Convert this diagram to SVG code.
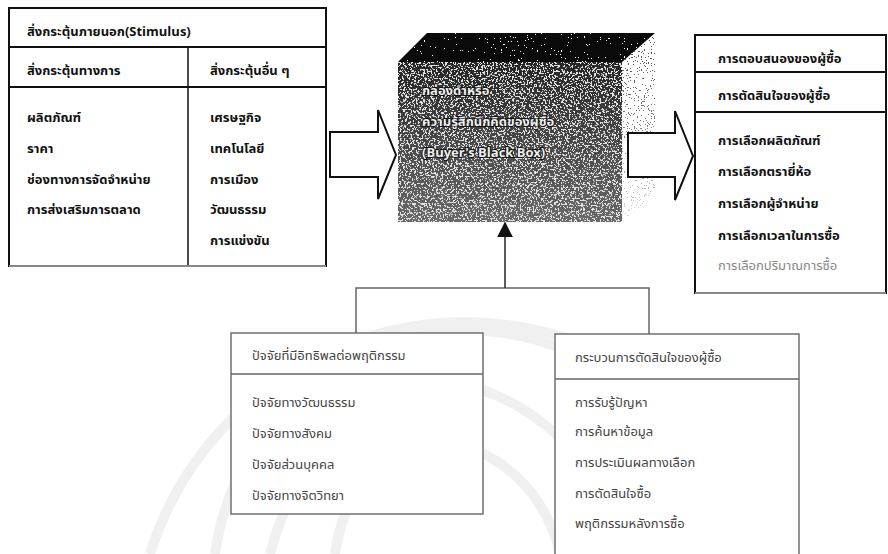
<svg xmlns="http://www.w3.org/2000/svg" width="888" height="554" viewBox="0 0 888 554">
<style>
  .b { font-family: "Noto Sans Thai", "Tahoma", "Liberation Sans", "DejaVu Sans", sans-serif; font-size: 13px; font-weight: bold; fill: #111; }
  .r { font-family: "Noto Sans Thai", "Tahoma", "Liberation Sans", "DejaVu Sans", sans-serif; font-size: 13px; fill: #444; }
  .cube { font-family: "Noto Sans Thai", "Tahoma", "Liberation Sans", "DejaVu Sans", sans-serif; font-size: 13px; font-weight: bold; fill: #f0f0f0; stroke: #111; stroke-width: 2; paint-order: stroke; }
  .tbl { fill: #fff; stroke: #111; stroke-width: 2; }
  .box { fill: #fff; stroke: #666; stroke-width: 1.4; }
  .blk { fill: #fff; stroke: #111; stroke-width: 2; stroke-linejoin: miter; }
  .conn { fill: none; stroke: #666; stroke-width: 1.5; }
  .wm { fill: none; stroke: #f0f0f0; stroke-width: 10; }
</style>
<defs>
  <filter id="speckW" x="0%" y="0%" width="100%" height="100%" color-interpolation-filters="sRGB">
    <feTurbulence type="fractalNoise" baseFrequency="0.55" numOctaves="2" seed="7" result="n"/>
    <feColorMatrix in="n" type="matrix" values="0 0 0 0 0.88  0 0 0 0 0.88  0 0 0 0 0.88  3 0 0 0 -1.2" result="w"/>
    <feComponentTransfer in="w" result="d"><feFuncA type="discrete" tableValues="0 1"/></feComponentTransfer>
    <feComposite in="d" in2="SourceGraphic" operator="in" result="c"/>
    <feMerge><feMergeNode in="SourceGraphic"/><feMergeNode in="c"/></feMerge>
  </filter>
  <filter id="speckFew" x="0%" y="0%" width="100%" height="100%" color-interpolation-filters="sRGB">
    <feTurbulence type="fractalNoise" baseFrequency="0.7" numOctaves="2" seed="3" result="n"/>
    <feColorMatrix in="n" type="matrix" values="0 0 0 0 1  0 0 0 0 1  0 0 0 0 1  3 0 0 0 -1.72" result="w"/>
    <feComponentTransfer in="w" result="d"><feFuncA type="discrete" tableValues="0 1"/></feComponentTransfer>
    <feComposite in="d" in2="SourceGraphic" operator="in" result="c"/>
    <feMerge><feMergeNode in="SourceGraphic"/><feMergeNode in="c"/></feMerge>
  </filter>
  <filter id="speckD" x="0%" y="0%" width="100%" height="100%" color-interpolation-filters="sRGB">
    <feTurbulence type="fractalNoise" baseFrequency="0.7" numOctaves="2" seed="11" result="n"/>
    <feColorMatrix in="n" type="matrix" values="0 0 0 0 0.3  0 0 0 0 0.3  0 0 0 0 0.3  3 0 0 0 -1.5" result="w"/>
    <feComponentTransfer in="w" result="d"><feFuncA type="discrete" tableValues="0 1"/></feComponentTransfer>
    <feComposite in="d" in2="SourceGraphic" operator="in"/>
  </filter>
  <linearGradient id="frontG" x1="0" y1="0" x2="0" y2="1">
    <stop offset="0" stop-color="#262626"/>
    <stop offset="0.45" stop-color="#454545"/>
    <stop offset="1" stop-color="#6a6a6a"/>
  </linearGradient>
  <linearGradient id="fadeG" x1="0" y1="0" x2="0" y2="1">
    <stop offset="0" stop-color="#fff"/>
    <stop offset="0.6" stop-color="#aaa"/>
    <stop offset="1" stop-color="#222"/>
  </linearGradient>
  <mask id="fade" maskUnits="userSpaceOnUse" x="620" y="30" width="40" height="195">
    <rect x="620" y="30" width="40" height="195" fill="url(#fadeG)"/>
  </mask>
  <marker id="ah" viewBox="0 0 10 10" refX="9" refY="5" markerWidth="16" markerHeight="16" markerUnits="userSpaceOnUse" orient="auto">
    <path d="M0,0 L10,5 L0,10 z" fill="#111"/>
  </marker>
</defs>

<rect width="888" height="554" fill="#fff"/>

<!-- faint watermark -->
<g id="watermark">
  <path class="wm" d="M150,554 A330,330 0 0 1 780,554"/>
  <path class="wm" d="M215,554 A255,260 0 0 1 720,554"/>
  <path class="wm" d="M270,554 C300,440 380,390 444,380 C520,392 600,450 630,554"/>
  <path class="wm" d="M335,554 C345,480 390,450 444,440 C500,452 545,490 560,554"/>
</g>

<!-- Stimulus table -->
<g id="stimulus">
  <rect class="tbl" x="9" y="8" width="317" height="258"/>
  <line x1="9" y1="47" x2="326" y2="47" stroke="#111" stroke-width="2"/>
  <line x1="9" y1="87" x2="326" y2="87" stroke="#111" stroke-width="2"/>
  <line x1="188" y1="47" x2="188" y2="266" stroke="#111" stroke-width="1.5"/>
  <line x1="9" y1="266" x2="326" y2="266" stroke="#888" stroke-width="2"/>
  <text class="b" x="27" y="36">สิ่งกระตุ้นภายนอก(Stimulus)</text>
  <text class="b" x="27" y="75">สิ่งกระตุ้นทางการ</text>
  <text class="b" x="210" y="75">สิ่งกระตุ้นอื่น ๆ</text>
  <text class="b" x="27" y="122">ผลิตภัณฑ์</text>
  <text class="b" x="27" y="153">ราคา</text>
  <text class="b" x="27" y="184">ช่องทางการจัดจำหน่าย</text>
  <text class="b" x="27" y="214">การส่งเสริมการตลาด</text>
  <text class="b" x="210" y="122">เศรษฐกิจ</text>
  <text class="b" x="210" y="153">เทคโนโลยี</text>
  <text class="b" x="210" y="184">การเมือง</text>
  <text class="b" x="210" y="214">วัฒนธรรม</text>
  <text class="b" x="210" y="245">การแข่งขัน</text>
</g>

<!-- Black box cube -->
<g id="blackbox">
  <g mask="url(#fade)">
    <polygon points="622,62 655,33 655,195 622,222" fill="#fff" filter="url(#speckD)"/>
  </g>
  <polygon points="398,62 427,33 655,33 622,62" fill="#0a0a0a" filter="url(#speckFew)"/>
  <rect x="398" y="62" width="224" height="160" fill="url(#frontG)" filter="url(#speckW)"/>
  <text class="cube" x="422" y="95">กล่องดำหรือ</text>
  <text class="cube" x="422" y="126">ความรู้สึกนึกคิดของผู้ซื้อ</text>
  <text class="cube" x="422" y="157">(Buyer's Black Box)</text>
</g>

<!-- Response table -->
<g id="response">
  <rect class="tbl" x="695" y="35" width="191" height="258"/>
  <line x1="695" y1="72" x2="886" y2="72" stroke="#111" stroke-width="2"/>
  <line x1="695" y1="112" x2="886" y2="112" stroke="#111" stroke-width="2"/>
  <line x1="695" y1="293" x2="886" y2="293" stroke="#888" stroke-width="2"/>
  <text class="b" x="718" y="63">การตอบสนองของผู้ซื้อ</text>
  <text class="b" x="718" y="100">การตัดสินใจของผู้ซื้อ</text>
  <text class="b" x="718" y="145">การเลือกผลิตภัณฑ์</text>
  <text class="b" x="718" y="176">การเลือกตรายี่ห้อ</text>
  <text class="b" x="718" y="208">การเลือกผู้จำหน่าย</text>
  <text class="b" x="718" y="240">การเลือกเวลาในการซื้อ</text>
  <text class="b" x="718" y="270" style="fill:#888;font-weight:normal">การเลือกปริมาณการซื้อ</text>
</g>

<!-- Factors box -->
<g id="factors">
  <rect class="box" x="231" y="333" width="252" height="181"/>
  <line x1="231" y1="374" x2="483" y2="374" stroke="#666" stroke-width="1.4"/>
  <text class="r" x="252" y="360">ปัจจัยที่มีอิทธิพลต่อพฤติกรรม</text>
  <text class="r" x="252" y="407">ปัจจัยทางวัฒนธรรม</text>
  <text class="r" x="252" y="438">ปัจจัยทางสังคม</text>
  <text class="r" x="252" y="469">ปัจจัยส่วนบุคคล</text>
  <text class="r" x="252" y="500">ปัจจัยทางจิตวิทยา</text>
</g>

<!-- Decision process box -->
<g id="process">
  <rect class="box" x="555" y="334" width="244" height="226"/>
  <line x1="555" y1="379" x2="799" y2="379" stroke="#666" stroke-width="1.4"/>
  <text class="r" x="575" y="362">กระบวนการตัดสินใจของผู้ซื้อ</text>
  <text class="r" x="575" y="407">การรับรู้ปัญหา</text>
  <text class="r" x="575" y="436">การค้นหาข้อมูล</text>
  <text class="r" x="575" y="467">การประเมินผลทางเลือก</text>
  <text class="r" x="575" y="498">การตัดสินใจซื้อ</text>
  <text class="r" x="575" y="528">พฤติกรรมหลังการซื้อ</text>
</g>

<!-- Connectors -->
<g id="connectors">
  <polygon class="blk" points="330,132 378,132 378,110 396,155 378,199 378,177 330,177"/>
  <polygon class="blk" points="628,133 675,133 675,111 693,156 675,200 675,177 628,177"/>
  <polyline class="conn" points="356,333 356,288 649,288 649,334"/>
  <line x1="505" y1="288" x2="505" y2="223" stroke="#333" stroke-width="1.6" marker-end="url(#ah)"/>
</g>
</svg>
